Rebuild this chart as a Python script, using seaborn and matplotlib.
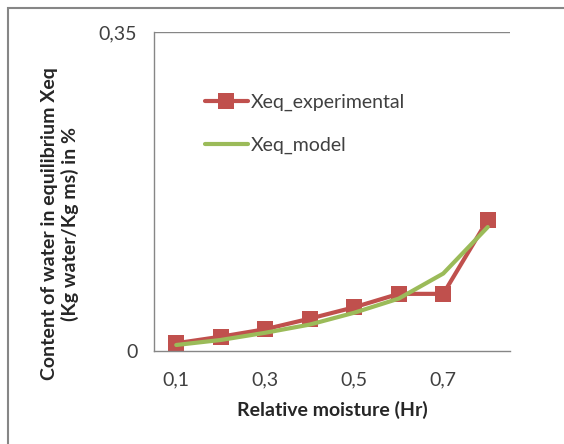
import pandas as pd
import numpy as np

import matplotlib.pyplot as plt
import seaborn as sns
from matplotlib.patches import Rectangle


# DATA
hr = [0.1, 0.2, 0.3, 0.4, 0.5, 0.6, 0.7, 0.8]

xeq_experimental = [0.0085, 0.0157, 0.0239, 0.0355, 0.048, 0.0627, 0.0627, 0.144]

xeq_model = [0.0066, 0.0121, 0.020, 0.029, 0.042, 0.0575, 0.085, 0.136]

x_ticks = [0.1, 0.3, 0.5, 0.7]
x_tick_labels = ["0,1", "0,3", "0,5", "0,7"]

y_ticks = [0, 0.35]
y_tick_labels = ["0", "0,35"]


# DATAFRAMES
df_exp = pd.DataFrame({'Hr': hr, 'Xeq': xeq_experimental})
df_mod = pd.DataFrame({'Hr': hr, 'Xeq': xeq_model})


# STYLE
sns.set_style("white")
plt.rcParams['font.family'] = ['Lato', 'DejaVu Sans']

red = '#C0504D'
green = '#9BBB59'
grey = '#868686'
fs = 14


# PLOT
fig = plt.figure(figsize=(5.64, 4.44), dpi=100)

ax = fig.add_axes([154 / 564, 1 - 351 / 444, 356 / 564, 319 / 444])

sns.lineplot(
    data=df_exp,
    x='Hr',
    y='Xeq',
    color=red,
    marker='s',
    markersize=11,
    markeredgewidth=0,
    linewidth=3,
    label='Xeq_experimental',
    ax=ax
)

sns.lineplot(
    data=df_mod,
    x='Hr',
    y='Xeq',
    color=green,
    linewidth=3,
    label='Xeq_model',
    ax=ax
)

ax.set_xlim(0.05, 0.85)
ax.set_ylim(0, 0.35)

ax.set_xticks(x_ticks)
ax.set_xticklabels(x_tick_labels, fontsize=fs, color='#404040')
ax.set_yticks(y_ticks)
ax.set_yticklabels(y_tick_labels, fontsize=fs, color='#404040')

ax.tick_params(axis='x', length=0, pad=15)
ax.tick_params(axis='y', length=7, width=1, color=grey, pad=5, direction='out')

ax.axhline(0.35, color=grey, linewidth=1)

for side in ['top', 'right']:
    ax.spines[side].set_visible(False)
for side in ['left', 'bottom']:
    ax.spines[side].set_color(grey)
    ax.spines[side].set_linewidth(1)

ax.set_xlabel("")
ax.set_ylabel("")

fig.text(332 / 564, 1 - 410 / 444, "Relative moisture (Hr)",
         ha='center', va='center', fontsize=fs, fontweight='bold')

fig.text(60 / 564, 1 - 224 / 444,
         "Content of water in equilibrium Xeq\n(Kg water/Kg ms) in %",
         ha='center', va='center', rotation=90, fontsize=fs,
         fontweight='bold', linespacing=1.25)


# LEGEND
handles, labels = ax.get_legend_handles_labels()
ax.legend(
    handles,
    labels,
    loc='upper left',
    bbox_to_anchor=(0.143, 0.805),
    frameon=False,
    fontsize=fs,
    borderpad=0,
    borderaxespad=0,
    handlelength=2.2,
    handletextpad=0.15,
    labelspacing=1.3,
    labelcolor='#404040'
)


# BORDER
fig.patches.append(Rectangle(
    (8 / 564, -0.1), 1.2, 1 - 8 / 444 + 0.1,
    transform=fig.transFigure, fill=False,
    edgecolor=grey, linewidth=1.5
))

plt.savefig("out.png", dpi=100)
